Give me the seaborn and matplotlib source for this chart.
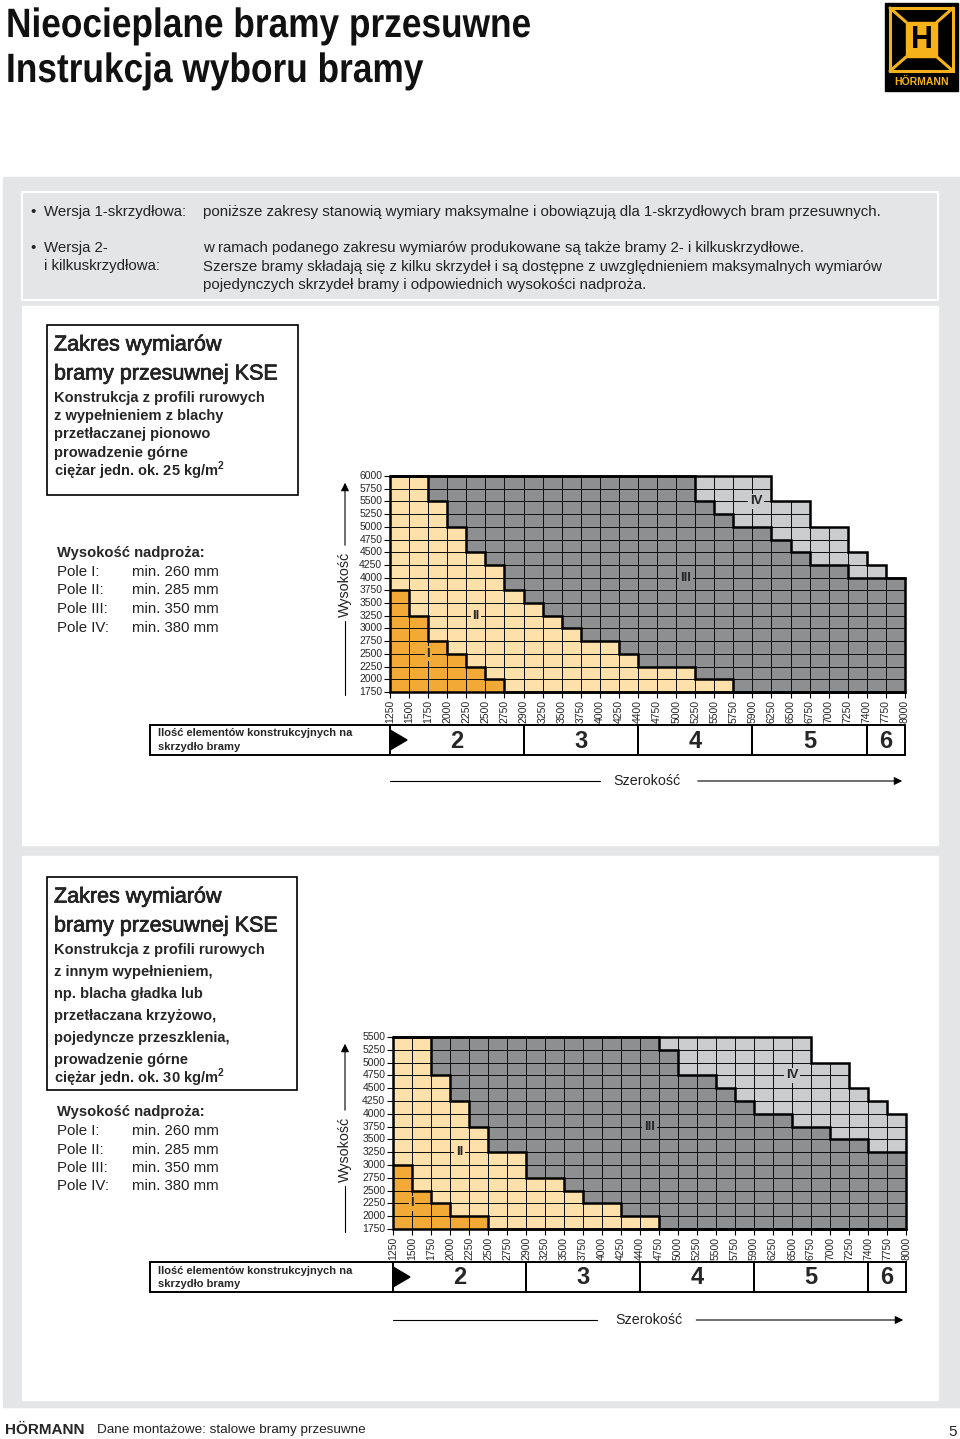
import numpy as np
import pandas as pd
import matplotlib
matplotlib.use("Agg")
import matplotlib.pyplot as plt
import matplotlib.transforms as mtransforms
import matplotlib.patheffects as pe
import seaborn as sns
from matplotlib.colors import ListedColormap, to_rgba
from matplotlib.patches import Rectangle, Polygon, PathPatch
from matplotlib.textpath import TextPath
from matplotlib.font_manager import FontProperties

# ---- data -----------------------------------------------------------------
szerokosc = [1250, 1500, 1750, 2000, 2250, 2500, 2750, 2900, 3250, 3500, 3750, 4000, 4250, 4400,
             4750, 5000, 5250, 5500, 5750, 5900, 6250, 6500, 6750, 7000, 7250, 7400, 7750, 8000]

wysokosc_1 = [6000, 5750, 5500, 5250, 5000, 4750, 4500, 4250, 4000, 3750, 3500, 3250, 3000,
              2750, 2500, 2250, 2000, 1750]
wysokosc_2 = [5500, 5250, 5000, 4750, 4500, 4250, 4000, 3750, 3500, 3250, 3000, 2750, 2500,
              2250, 2000, 1750]

# upper edge of every field per width column, counted in 250 mm rows from 1750
pole_I_1 = [8, 6, 4, 3, 2, 1, 0, 0, 0, 0, 0, 0, 0, 0, 0, 0, 0, 0, 0, 0, 0, 0, 0, 0, 0, 0, 0]
pole_II_1 = [17, 17, 15, 13, 11, 10, 8, 7, 6, 5, 4, 4, 3, 2, 2, 2, 1, 1, 0, 0, 0, 0, 0, 0, 0, 0, 0]
pole_III_1 = [17, 17, 17, 17, 17, 17, 17, 17, 17, 17, 17, 17, 17, 17, 17, 17, 15, 14, 13, 13, 12,
              11, 10, 10, 9, 9, 9]
pole_IV_1 = [17, 17, 17, 17, 17, 17, 17, 17, 17, 17, 17, 17, 17, 17, 17, 17, 17, 17, 17, 17, 15,
             15, 13, 13, 11, 10, 9]

pole_I_2 = [5, 3, 2, 1, 1, 0, 0, 0, 0, 0, 0, 0, 0, 0, 0, 0, 0, 0, 0, 0, 0, 0, 0, 0, 0, 0, 0]
pole_II_2 = [15, 15, 12, 10, 8, 6, 6, 4, 4, 3, 2, 2, 1, 1, 0, 0, 0, 0, 0, 0, 0, 0, 0, 0, 0, 0, 0]
pole_III_2 = [15, 15, 15, 15, 15, 15, 15, 15, 15, 15, 15, 15, 15, 15, 14, 12, 12, 11, 10, 9, 9,
              8, 8, 7, 7, 6, 6]
pole_IV_2 = [15, 15, 15, 15, 15, 15, 15, 15, 15, 15, 15, 15, 15, 15, 15, 15, 15, 15, 15, 15, 15,
             15, 13, 13, 11, 10, 9]

elementy = [2, 3, 4, 5, 6]
elementy_granice = [1250, 2900, 4400, 5900, 7400, 8000]

pola = ["I", "II", "III", "IV"]
nadproze = ["min. 260 mm", "min. 285 mm", "min. 350 mm", "min. 380 mm"]

ZONE_COLORS = ["#F2A935", "#FEE0AA", "#8E8F91", "#CBCCCE"]
GRAY = "#E4E5E6"
TXT = "#222222"

# ---- style ----------------------------------------------------------------
sns.set_theme(style="white")
plt.rcParams["font.family"] = ["Liberation Sans", "DejaVu Sans"]
plt.rcParams["mathtext.fontset"] = "custom"
plt.rcParams["mathtext.rm"] = "Liberation Sans"
plt.rcParams["mathtext.bf"] = "Liberation Sans:bold"

W, H = 960, 1439
fig = plt.figure(figsize=(9.6, 14.39), dpi=100)
bg = fig.add_axes([0, 0, 1, 1])
bg.set_xlim(0, W)
bg.set_ylim(H, 0)
bg.axis("off")

MEDIUM = [pe.withStroke(linewidth=0.45, foreground="black")]


def px_axes(x0, y0, x1, y1):
    a = fig.add_axes([x0 / W, 1 - y1 / H, (x1 - x0) / W, (y1 - y0) / H])
    a.set_facecolor("none")
    return a


def narrow_text(s, x, y_base, size, sx, color="black"):
    # condensed bold heading: squeeze a text path horizontally
    tp = TextPath((0, 0), s, size=size,
                  prop=FontProperties(family="Liberation Sans", weight="bold"))
    tr = mtransforms.Affine2D().scale(sx, -1).translate(x, y_base) + bg.transData
    bg.add_patch(PathPatch(tp, transform=tr, color=color, lw=0, zorder=5))


# backgrounds
bg.add_patch(Rectangle((3, 177), W - 3, 1230, color=GRAY, zorder=0))
bg.add_patch(Rectangle((22, 192), 916, 108, facecolor=GRAY, edgecolor="white", lw=1.5, zorder=1))
bg.add_patch(Rectangle((22, 306), 916, 539, color="white", zorder=1))
bg.add_patch(Rectangle((22, 856), 916, 544, color="white", zorder=1))

# title
narrow_text("Nieocieplane bramy przesuwne", 6, 37, 41, 0.86, "#111111")
narrow_text("Instrukcja wyboru bramy", 6, 82, 41, 0.86, "#111111")

# logo
YEL = "#F5B21B"
bg.add_patch(Rectangle((885, 3), 73, 88, color="black", zorder=2))
bg.add_patch(Rectangle((890, 8), 63, 63, fill=False, ec=YEL, lw=2.2, zorder=3))
for (x0, y0), (x1, y1) in [((890, 8), (906, 22)), ((953, 8), (937, 22)),
                           ((890, 71), (906, 57)), ((953, 71), (937, 57))]:
    bg.plot([x0, x1], [y0, y1], color=YEL, lw=2.2, zorder=3)
bg.add_patch(Rectangle((906, 22), 31, 35, color=YEL, zorder=3))
bg.text(921.5, 40, "H", color="black", fontsize=22, fontweight="bold", ha="center",
        va="center", zorder=4)
bg.text(921.5, 82, "HÖRMANN", color=YEL, fontsize=7.5, fontweight="bold", ha="center",
        va="center", zorder=4)

# info box
fs_info = 10.8
bg.text(30, 212, "•", fontsize=fs_info, va="center", color=TXT, zorder=3)
bg.text(44, 212, "Wersja 1-skrzydłowa:", fontsize=fs_info, va="center", color=TXT, zorder=3)
bg.text(203, 212, "poniższe zakresy stanowią wymiary maksymalne i obowiązują dla "
        "1-skrzydłowych bram przesuwnych.", fontsize=fs_info, va="center", color=TXT, zorder=3)
bg.text(30, 248, "•", fontsize=fs_info, va="center", color=TXT, zorder=3)
bg.text(44, 248, "Wersja 2-", fontsize=fs_info, va="center", color=TXT, zorder=3)
bg.text(44, 266, "i kilkuskrzydłowa:", fontsize=fs_info, va="center", color=TXT, zorder=3)
info_lines = ["w ramach podanego zakresu wymiarów produkowane są także bramy 2- i kilkuskrzydłowe.",
              "Szersze bramy składają się z kilku skrzydeł i są dostępne z uwzględnieniem "
              "maksymalnych wymiarów",
              "pojedynczych skrzydeł bramy i odpowiednich wysokości nadproża."]
for i, line in enumerate(info_lines):
    bg.text(203, 248 + i * 18.5, line, fontsize=fs_info, va="center", color=TXT, zorder=3)


def draw_panel(box, desc_lines, y_pole, grid_px, heights, zones, label_pos, count_y, axis_y,
               wys_gap):
    # description box
    bx0, by0, bx1, by1 = box
    bg.add_patch(Rectangle((bx0, by0), bx1 - bx0, by1 - by0, fill=False, ec="black", lw=1.2,
                           zorder=3))
    bg.text(bx0 + 7, by0 + 20, "Zakres wymiarów", fontsize=15.5, va="center", zorder=3,
            path_effects=MEDIUM)
    bg.text(bx0 + 7, by0 + 49, "bramy przesuwnej KSE", fontsize=15.5, va="center", zorder=3,
            path_effects=MEDIUM)
    for text, y in desc_lines:
        bg.text(bx0 + 7, y, text, fontsize=10.5, fontweight="bold", va="center", zorder=3)

    bg.text(57, y_pole, "Wysokość nadproża:", fontsize=10.6, fontweight="bold", va="center",
            zorder=3)
    for i, (p, n) in enumerate(zip(pola, nadproze)):
        y = y_pole + 19 + i * 18.5
        bg.text(57, y, f"Pole {p}:", fontsize=10.8, va="center", color=TXT, zorder=3)
        bg.text(132, y, n, fontsize=10.8, va="center", color=TXT, zorder=3)

    # heat map of the fields
    gx0, gy0, gx1, gy1 = grid_px
    ax = px_axes(gx0, gy0, gx1, gy1)
    n_rows = len(heights) - 1
    n_cols = len(szerokosc) - 1
    p1, p2, p3, p4 = zones
    mat = np.full((n_rows, n_cols), np.nan)
    for c in range(n_cols):
        for r in range(p4[c]):
            z = 1 if r < p1[c] else 2 if r < p2[c] else 3 if r < p3[c] else 4
            mat[n_rows - 1 - r, c] = z
    df = pd.DataFrame(mat, index=heights[:-1], columns=szerokosc[:-1])
    sns.heatmap(df, ax=ax, cmap=ListedColormap(ZONE_COLORS), vmin=0.5, vmax=4.5, cbar=False,
                linewidths=0.7, linecolor="#111111")
    # no cell edges where there is no door size
    mesh = ax.collections[0]
    valid = ~np.isnan(mat).ravel()
    ec = np.zeros((valid.size, 4))
    ec[valid] = to_rgba("#111111")
    mesh.set_edgecolor(ec)

    for k, h in enumerate(zones):
        xs, ys = [], []
        for c in range(n_cols):
            xs += [c, c + 1]
            ys += [n_rows - h[c], n_rows - h[c]]
        if k == 3:
            xs += [n_cols, 0, 0]
            ys += [n_rows, n_rows, n_rows - h[0]]
        ax.plot(xs, ys, color="black", lw=1.8, clip_on=False, solid_joinstyle="miter")
    ax.set_xticks(np.arange(n_cols + 1))
    ax.set_xticklabels(szerokosc, rotation=90, fontsize=7.5)
    ax.set_yticks(np.arange(n_rows + 1))
    ax.set_yticklabels(heights, rotation=0, fontsize=7.5)
    ax.tick_params(axis="both", length=4, width=0.8, color="black", pad=1.5, bottom=True,
                   left=True)
    ax.set_xlabel("")
    ax.set_ylabel("")
    for z, (lx, ly) in zip(pola, label_pos):
        ax.text(lx, ly, z, ha="center", va="center", fontsize=9.5, fontweight="bold",
                bbox=dict(boxstyle="square,pad=0.12", fc=ZONE_COLORS[pola.index(z)], ec="none"))

    # construction elements row
    tr = mtransforms.blended_transform_factory(ax.transData, bg.transData)
    cy0, cy1 = count_y
    bg.add_patch(Rectangle((150, cy0), gx0 - 150, cy1 - cy0, fill=False, ec="black", lw=1.4,
                           zorder=3))
    bg.text(158, cy0 + 8.5, "Ilość elementów konstrukcyjnych na", fontsize=8, fontweight="bold",
            va="center", zorder=4)
    bg.text(158, cy0 + 22, "skrzydło bramy", fontsize=8, fontweight="bold", va="center", zorder=4)
    for n, a, b in zip(elementy, elementy_granice[:-1], elementy_granice[1:]):
        i0, i1 = szerokosc.index(a), szerokosc.index(b)
        bg.add_patch(Rectangle((i0, cy0), i1 - i0, cy1 - cy0, transform=tr, fill=False,
                               ec="black", lw=1.4, zorder=3, clip_on=False))
        bg.text((i0 + i1) / 2, (cy0 + cy1) / 2 + 1, str(n), transform=tr, fontsize=17,
                fontweight="bold", ha="center", va="center", zorder=4)
    bg.add_patch(Polygon([(gx0, cy0 + 5), (gx0, cy1 - 5), (gx0 + 17, (cy0 + cy1) / 2)],
                         color="black", zorder=4))

    # axis captions
    bg.plot([gx0, 600 - (gx0 - 390)], [axis_y, axis_y], color="black", lw=0.8, zorder=3)
    bg.text((gx0 + gx1) / 2 - 1, axis_y, "Szerokość", fontsize=10.3, ha="center", va="center",
            color=TXT, zorder=3)
    bg.annotate("", xy=(gx1, axis_y), xytext=(695 - (gx0 - 390) / 2, axis_y),
                arrowprops=dict(arrowstyle="-|>", color="black", lw=0.8, mutation_scale=12),
                zorder=3)
    wx = 345
    wy = (wys_gap[0] + wys_gap[1]) / 2
    bg.text(wx, wy, "Wysokość", fontsize=10.3, rotation=90, ha="center", va="center", color=TXT,
            zorder=3)
    bg.plot([wx, wx], [wys_gap[1], gy1 + 3], color="black", lw=0.8, zorder=3)
    bg.annotate("", xy=(wx, gy0 + 4), xytext=(wx, wys_gap[0]),
                arrowprops=dict(arrowstyle="-|>", color="black", lw=0.8, mutation_scale=12),
                zorder=3)


draw_panel(
    box=(47, 325, 298, 495),
    desc_lines=[("Konstrukcja z profili rurowych", 398), ("z wypełnieniem z blachy", 416),
                ("przetłaczanej pionowo", 434), ("prowadzenie górne", 453),
                (r"ciężar jedn. ok. 25 kg/m$^{\mathbf{2}}$", 471)],
    y_pole=553,
    grid_px=(390, 476, 905, 692),
    heights=wysokosc_1,
    zones=(pole_I_1, pole_II_1, pole_III_1, pole_IV_1),
    label_pos=[(2, 14), (4.5, 11), (15.5, 8), (19.2, 2)],
    count_y=(725, 755),
    axis_y=781,
    wys_gap=(548, 621),
)

draw_panel(
    box=(47, 877, 297, 1090),
    desc_lines=[("Konstrukcja z profili rurowych", 950), ("z innym wypełnieniem,", 972),
                ("np. blacha gładka lub", 994), ("przetłaczana krzyżowo,", 1016),
                ("pojedyncze przeszklenia,", 1038), ("prowadzenie górne", 1060),
                (r"ciężar jedn. ok. 30 kg/m$^{\mathbf{2}}$", 1078)],
    y_pole=1112,
    grid_px=(393, 1037, 906, 1229),
    heights=wysokosc_2,
    zones=(pole_I_2, pole_II_2, pole_III_2, pole_IV_2),
    label_pos=[(1, 13), (3.5, 9), (13.5, 7), (21, 3)],
    count_y=(1262, 1292),
    axis_y=1320,
    wys_gap=(1113, 1186),
)

# footer
bg.text(5, 1430, "HÖRMANN", fontsize=11, fontweight="bold", va="center")
bg.text(97, 1430, "Dane montażowe: stalowe bramy przesuwne", fontsize=9.7, va="center",
        color=TXT)
bg.text(957, 1432, "5", fontsize=11, va="center", ha="right", color=TXT)

fig.savefig("out.png", dpi=100)
